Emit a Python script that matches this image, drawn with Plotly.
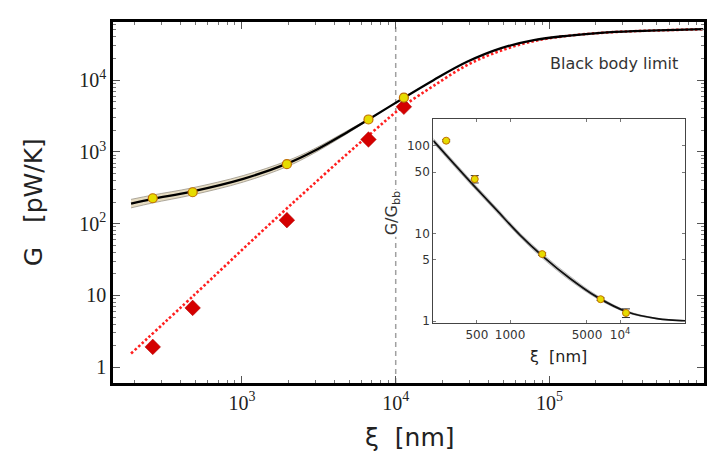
import math
import plotly.graph_objects as go

# ---------------- data ----------------
# main panel: full theory curve (black) and its uncertainty band
xi_curve = [190, 264, 470, 1020, 1950, 2920, 4810, 6650, 11250, 17600, 29100,
            48000, 79100, 130000, 215000, 354000, 585000, 1000000]
G_curve = [190, 221, 280, 422, 680, 1020, 1870, 2825, 5650, 10000, 18000,
           27700, 36100, 41500, 45600, 48200, 49800, 51400]
band_xi = [190, 264, 470, 1020, 1950, 2920, 4810, 6650]
band_hi = [218, 251, 314, 468, 745, 1093, 1958, 2878]
band_lo = [166, 195, 250, 380, 620, 951, 1786, 2773]

# black-body limit (red dotted)
xi_bb = [190, 500, 1000, 1770, 2770, 4810, 7000, 9210, 11800, 17600, 29100,
         48000, 79100, 130000, 215000, 354000, 585000, 1000000]
G_bb = [1.55, 10.6, 43, 134, 320, 930, 1860, 3080, 4700, 8300, 16200,
        25600, 35000, 41300, 45500, 48100, 49700, 51300]

# measured points
xi_data = [263, 478, 1960, 6650, 11300]
G_data = [226, 274, 675, 2830, 5700]
G_err = [14, 14, 30, 150, 700]
G_bb_pts = [1.92, 6.7, 112, 1490, 4250]

# inset: G / G_bb
xi_inset = [201, 285, 464, 757, 1233, 2010, 3510, 6140, 11500, 21600, 39000]
ratio_curve = [114, 69.8, 35.6, 18.4, 9.57, 5.41, 3.07, 1.89, 1.28, 1.07, 1.01]
ratio_hi = [121, 74, 37.7, 19.5, 10.1, 5.73, 3.25, 1.97, 1.31, 1.08, 1.015]
ratio_lo = [107.5, 65.8, 33.6, 17.4, 9.03, 5.1, 2.9, 1.82, 1.25, 1.06, 1.005]
ratio_data = [114, 41.6, 5.81, 1.78, 1.24]
ratio_err = [3, 4, 0.2, 0.06, 0.14]

xi_ref = 1e4  # dashed vertical marker

main_xticks = [1e3, 1e4, 1e5]
main_xticktext = ["10<sup>3</sup>", "10<sup>4</sup>", "10<sup>5</sup>"]
main_yticks = [1, 10, 1e2, 1e3, 1e4]
main_yticktext = ["1", "10", "10<sup>2</sup>", "10<sup>3</sup>", "10<sup>4</sup>"]
inset_xticks = [500, 1000, 5000, 1e4]
inset_xticktext = ["500", "1000", "5000", "10<sup>4</sup>"]
inset_yticks = [1, 5, 10, 50, 100]
inset_yticktext = ["1", "5", "10", "50", "100"]

# ---------------- figure ----------------
fig = go.Figure()

# main band
fig.add_trace(go.Scatter(x=band_xi, y=band_lo, mode="lines", line=dict(color="#9a9488", width=0.8, shape="spline"),
                         hoverinfo="skip", showlegend=False))
fig.add_trace(go.Scatter(x=band_xi, y=band_hi, mode="lines", line=dict(color="#9a9488", width=0.8, shape="spline"),
                         fill="tonexty", fillcolor="#e6dcc2", hoverinfo="skip", showlegend=False))
# red dotted black-body line
fig.add_trace(go.Scatter(x=xi_bb, y=G_bb, mode="lines",
                         line=dict(color="#ff2020", width=2.6, dash="2.5px,2.2px", shape="spline"),
                         showlegend=False))
# black curve
fig.add_trace(go.Scatter(x=xi_curve, y=G_curve, mode="lines",
                         line=dict(color="black", width=2.3, shape="spline"), showlegend=False))
# red diamonds
fig.add_trace(go.Scatter(x=xi_data, y=G_bb_pts, mode="markers",
                         marker=dict(symbol="diamond", size=12, color="#d40000",
                                     line=dict(color="#b00000", width=0.5)),
                         showlegend=False))
# yellow measured points
fig.add_trace(go.Scatter(x=xi_data, y=G_data, mode="markers",
                         error_y=dict(type="data", array=G_err, color="#333333", thickness=1, width=3),
                         marker=dict(symbol="circle", size=9, color="#e6dc00",
                                     line=dict(color="#c07000", width=1.2)),
                         showlegend=False))

# inset traces
fig.add_trace(go.Scatter(x=xi_inset, y=ratio_lo, mode="lines", xaxis="x2", yaxis="y2",
                         line=dict(color="#b0b0b0", width=0.8, shape="spline"),
                         hoverinfo="skip", showlegend=False))
fig.add_trace(go.Scatter(x=xi_inset, y=ratio_hi, mode="lines", xaxis="x2", yaxis="y2",
                         line=dict(color="#b0b0b0", width=0.8, shape="spline"),
                         fill="tonexty", fillcolor="#d6d6d6", hoverinfo="skip", showlegend=False))
fig.add_trace(go.Scatter(x=xi_inset, y=ratio_curve, mode="lines", xaxis="x2", yaxis="y2",
                         line=dict(color="#111111", width=1.8, shape="spline"), showlegend=False))
fig.add_trace(go.Scatter(x=xi_data, y=ratio_data, mode="markers", xaxis="x2", yaxis="y2",
                         error_y=dict(type="data", array=ratio_err, color="#333333", thickness=1, width=4),
                         marker=dict(symbol="circle", size=7, color="#e6dc00",
                                     line=dict(color="#c07000", width=1)),
                         showlegend=False))


def minor_vals(lo_exp, hi_exp):
    return [m * 10 ** e for e in range(lo_exp, hi_exp + 1) for m in range(2, 10)]


serif = "Liberation Serif"
sans = "DejaVu Sans"

fig.update_layout(
    width=722, height=463,
    margin=dict(l=113, r=18, t=22, b=80),
    paper_bgcolor="white", plot_bgcolor="white",
    showlegend=False,
    xaxis=dict(type="log", range=[math.log10(145), 6.005], domain=[0, 1],
               showgrid=False, zeroline=False,
               showline=True, linecolor="black", linewidth=2.5, mirror="allticks",
               ticks="inside", ticklen=7, tickwidth=1, tickcolor="#555",
               tickvals=main_xticks, ticktext=main_xticktext,
               tickfont=dict(family=serif, size=20, color="#222"),
               minor=dict(ticks="inside", ticklen=3, tickcolor="#777", tickwidth=1,
                          tickvals=minor_vals(2, 5))),
    yaxis=dict(type="log", range=[-0.22, 4.81], domain=[0, 1],
               showgrid=False, zeroline=False,
               showline=True, linecolor="black", linewidth=2.5, mirror="allticks",
               ticks="inside", ticklen=7, tickwidth=1, tickcolor="#555",
               tickvals=main_yticks, ticktext=main_yticktext,
               tickfont=dict(family=serif, size=20, color="#222"),
               minor=dict(ticks="inside", ticklen=3, tickcolor="#777", tickwidth=1,
                          tickvals=minor_vals(0, 4))),
    xaxis2=dict(type="log", range=[math.log10(201), 4.59], domain=[0.542, 0.968], anchor="y2",
                showgrid=False, zeroline=False,
                showline=True, linecolor="#444", linewidth=1.2, mirror="allticks",
                ticks="inside", ticklen=3, tickcolor="#777",
                tickvals=inset_xticks, ticktext=inset_xticktext,
                tickfont=dict(family=sans, size=12, color="#333")),
    yaxis2=dict(type="log", range=[-0.026, 2.303], domain=[0.165, 0.731], anchor="x2",
                showgrid=False, zeroline=False,
                showline=True, linecolor="#444", linewidth=1.2, mirror="allticks",
                ticks="inside", ticklen=3, tickcolor="#777",
                tickvals=inset_yticks, ticktext=inset_yticktext,
                tickfont=dict(family=sans, size=12, color="#333")),
    shapes=[dict(type="line", xref="x", yref="paper", x0=xi_ref, x1=xi_ref, y0=0, y1=0.99,
                 line=dict(color="#a0a0a0", width=1.5, dash="5px,4px"), layer="below")],
    annotations=[
        dict(text="G   [pW/K]", xref="paper", yref="paper", x=-0.134, y=0.5,
             xanchor="center", yanchor="middle", textangle=-90, showarrow=False,
             font=dict(family=sans, size=25, color="#222")),
        dict(text="ξ  [nm]", xref="paper", yref="paper", x=0.5025, y=-0.15,
             xanchor="center", yanchor="middle", showarrow=False,
             font=dict(family=sans, size=25, color="#222")),
        dict(text="Black body limit", xref="paper", yref="paper", x=0.8477, y=0.886,
             xanchor="center", yanchor="middle", showarrow=False,
             font=dict(family=sans, size=16, color="#333")),
        dict(text="G/G<sub>bb</sub>", xref="paper", yref="paper", x=0.472, y=0.47,
             xanchor="center", yanchor="middle", textangle=-90, showarrow=False,
             bgcolor="white", font=dict(family=sans, size=16, color="#333")),
        dict(text="ξ  [nm]", xref="paper", yref="paper", x=0.753, y=(383 - 356) / 361,
             xanchor="center", yanchor="middle", showarrow=False,
             font=dict(family=sans, size=16, color="#222")),
    ],
)

fig.write_html("out.html")
